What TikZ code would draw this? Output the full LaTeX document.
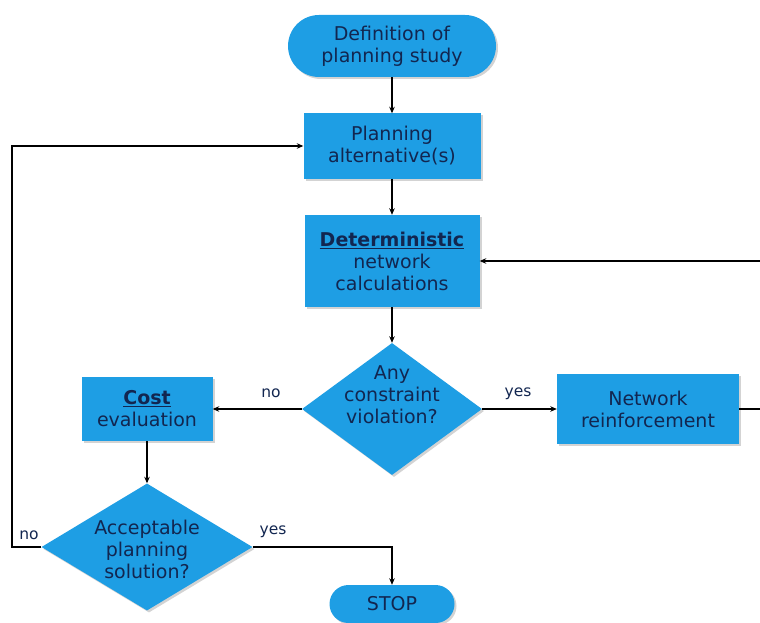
\documentclass[tikz,border=0pt]{standalone}
\usepackage{fontspec}
\setmainfont{DejaVu Sans}
\usetikzlibrary{shapes.geometric,arrows.meta,shadows}

\definecolor{boxblue}{RGB}{30,158,228}
\definecolor{textnavy}{RGB}{18,38,80}

\tikzset{
  base/.style={fill=boxblue, draw=none, text=textnavy, align=center,
    font=\fontsize{19}{22}\selectfont, inner sep=0pt,
    drop shadow={shadow xshift=2pt, shadow yshift=-2pt, opacity=0.35, fill=gray}},
  procbox/.style={base, rectangle},
  pill/.style={base, rectangle, rounded corners=#1},
  decision/.style={base, diamond},
  dtext/.style={text=textnavy, align=center, font=\fontsize{19}{22}\selectfont, inner sep=0pt},
  flow/.style={line width=1.6pt, -{Stealth[length=6.5pt,width=5.5pt]}},
  plain/.style={line width=1.6pt},
  lbl/.style={text=textnavy, font=\fontsize{15.5}{17}\selectfont, inner sep=0pt}
}

\begin{document}
\begin{tikzpicture}[x=1pt, y=-1pt]
  \useasboundingbox (0,0) rectangle (760,623);

  % process steps
  \node[pill=31pt, minimum width=208pt, minimum height=62pt] (start) at (392,46)
    {Definition of\\planning study};
  \node[procbox, minimum width=177pt, minimum height=65pt] (plan) at (392,146)
    {Planning\\alternative(s)};
  \node[procbox, minimum width=175pt, minimum height=92pt] (det) at (392,261)
    {\textbf{\underline{Deterministic}}\\network\\calculations};
  \node[decision, minimum width=180pt, minimum height=132pt] (any) at (392,409) {};
  \node[dtext] (anytext) at (392,395) {Any\\constraint\\violation?};
  \node[procbox, minimum width=182pt, minimum height=70pt] (net) at (648,409)
    {Network\\reinforcement};
  \node[procbox, minimum width=131pt, minimum height=64pt] (cost) at (147,409)
    {\textbf{\underline{Cost}}\\evaluation};
  \node[decision, minimum width=211pt, minimum height=127pt] (acc) at (147,547) {};
  \node[dtext] (acctext) at (147,549) {Acceptable\\planning\\solution?};
  \node[pill=19pt, minimum width=125pt, minimum height=38pt] (stop) at (392,604) {STOP};

  % loop-back corners
  \coordinate (rtop) at (765,261);
  \coordinate (rbot) at (765,409);
  \coordinate (lbot) at (12,547);
  \coordinate (ltop) at (12,146);
  \coordinate (ycorner) at (392,547);

  % connectors
  \draw[flow] (start) -- (plan);
  \draw[flow] (plan) -- (det);
  \draw[flow] (det) -- (any.north);
  \draw[flow] (any.east) -- (net.west);
  \draw[flow] (any.west) -- (cost.east);
  \draw[plain] (net.east) -- (rbot) -- (rtop);
  \draw[flow] (rtop) -- (det.east);
  \draw[flow] (cost) -- (acc.north);
  \draw[flow] (acc.east) -- (ycorner) -- (stop.north);
  \draw[flow] (acc.west) -- (lbot) -- (ltop) -- (plan.west);

  % branch labels
  \node[lbl] (lyes1) at (518,394) {yes};
  \node[lbl] (lno1) at (271,393) {no};
  \node[lbl] (lyes2) at (273,532) {yes};
  \node[lbl] (lno2) at (29,535) {no};
\end{tikzpicture}
\end{document}
